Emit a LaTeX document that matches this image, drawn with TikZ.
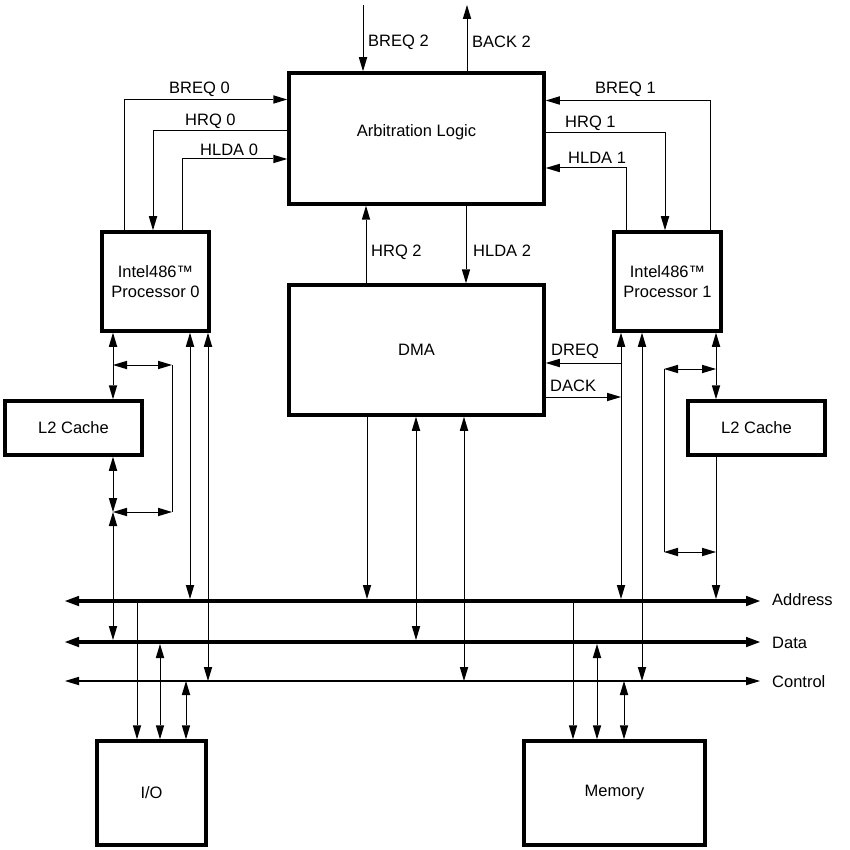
\documentclass[tikz,border=0pt]{standalone}
\usepackage{fontspec}
\setmainfont{Liberation Sans}
\usetikzlibrary{arrows.meta}
\begin{document}
\begin{tikzpicture}[x=1pt,y=-1pt,
  >={Triangle[length=14pt,width=8.5pt,line width=0pt]},
  every node/.style={font=\fontsize{16.5}{20}\selectfont},
  box/.style={draw,line width=3.5pt,inner sep=0pt,align=center},
  sig/.style={line width=1pt},
  bustip/.tip={Triangle[length=14pt,width=10.5pt,line width=0pt]},
  bus/.style={line width=4pt,bustip-bustip},
  cbus/.style={line width=1.2pt,<->},
  lbl/.style={anchor=west,inner sep=0pt}]
\useasboundingbox (0,0) rectangle (850,850);

% boxes
\node[box,minimum width=255pt,minimum height=131pt] (arb) at (416.5,138.5) {};
\node (arbt) at ([yshift=6.5pt]arb.center) {Arbitration Logic};
\node[box,minimum width=255pt,minimum height=130pt] (dma) at (416.5,350) {DMA};
\node[box,minimum width=107pt,minimum height=99pt] (p0) at (155.5,281.5) {Intel486™\\Processor 0};
\node[box,minimum width=107pt,minimum height=99pt] (p1) at (667.5,281.5) {Intel486™\\Processor 1};
\node[box,minimum width=137pt,minimum height=54pt] (c0) at (73.5,428) {L2 Cache};
\node[box,minimum width=137pt,minimum height=54pt] (c1) at (756.5,428) {L2 Cache};
\node[box,minimum width=109pt,minimum height=104pt] (io) at (151.5,793) {I/O};
\node[box,minimum width=181pt,minimum height=104pt] (mem) at (614.5,793) {Memory};

% buses
\coordinate (aL) at (65,601); \coordinate (aR) at (760,601);
\coordinate (dL) at (65,642); \coordinate (dR) at (760,642);
\coordinate (cL) at (65,681); \coordinate (cR) at (760,681);
\draw[bus] (aL) -- (aR);
\draw[bus] (dL) -- (dR);
\draw[cbus] (cL) -- (cR);
\node[lbl] (la) at (772,600) {Address};
\node[lbl] (ld) at (772,643) {Data};
\node[lbl] (lc) at (772,682) {Control};

% top signals
\coordinate (breq2s) at (363,5);
\coordinate (back2e) at (467,5);
\draw[sig,->] (breq2s) -- (arb.north -| breq2s);
\draw[sig,->] (arb.north -| back2e) -- (back2e);
\node[lbl] (tb2) at (368,42) {BREQ 2};
\node[lbl] (tk2) at (472,42) {BACK 2};

% left arbitration signals
\coordinate (b0) at (124,99.5);
\coordinate (h0) at (153,131);
\coordinate (l0) at (182,159);
\draw[sig,->] (p0.north -| b0) |- (arb.west |- b0);
\draw[sig,->] (arb.west |- h0) -| (p0.north -| h0);
\draw[sig,->] (p0.north -| l0) |- (arb.west |- l0);
\node[lbl] (tb0) at (169,89) {BREQ 0};
\node[lbl] (th0) at (185,121) {HRQ 0};
\node[lbl] (tl0) at (200,150) {HLDA 0};

% right arbitration signals
\coordinate (b1) at (710,100.5);
\coordinate (h1) at (665,132.5);
\coordinate (l1) at (626,168);
\draw[sig,->] (p1.north -| b1) |- (arb.east |- b1);
\draw[sig,->] (arb.east |- h1) -| (p1.north -| h1);
\draw[sig,->] (p1.north -| l1) |- (arb.east |- l1);
\node[lbl] (tb1) at (595,89) {BREQ 1};
\node[lbl] (th1) at (565,123) {HRQ 1};
\node[lbl] (tl1) at (568,158) {HLDA 1};

% DMA <-> arbitration
\coordinate (h2) at (366,0);
\coordinate (a2) at (466,0);
\draw[sig,->] (dma.north -| h2) -- (arb.south -| h2);
\draw[sig,->] (arb.south -| a2) -- (dma.north -| a2);
\node[lbl] (th2) at (371,252) {HRQ 2};
\node[lbl] (ta2) at (473,251) {HLDA 2};

% DREQ / DACK
\coordinate (dreq) at (621,363);
\coordinate (dack) at (621,397);
\draw[sig,->] (dreq) -- (dma.east |- dreq);
\draw[sig,->] (dma.east |- dack) -- (dack);
\node[lbl] (tdr) at (551,351) {DREQ};
\node[lbl] (tda) at (550,386) {DACK};

% processor 0 lower connections
\coordinate (k1) at (113,365); \coordinate (k2) at (172,365);
\coordinate (k3) at (172,512); \coordinate (k4) at (113,512);
\coordinate (p0a) at (190,0); \coordinate (p0c) at (208,0);
\draw[sig,<->] (p0.south -| k1) -- (c0.north -| k1);
\draw[sig,<->] (k1) -- (k2);
\draw[sig] (k2) -- (k3);
\draw[sig,<->] (k3) -- (k4);
\draw[sig,<->] (c0.south -| k4) -- (k4);
\draw[sig,<->,shorten >=2pt] (k4) -- (dL -| k4);
\draw[sig,<->,shorten >=2pt] (p0.south -| p0a) -- (aL -| p0a);
\draw[sig,<->] (p0.south -| p0c) -- (cL -| p0c);

% processor 1 lower connections
\coordinate (q1) at (716,369); \coordinate (q2) at (664,369);
\coordinate (q3) at (664,552); \coordinate (q4) at (716,552);
\coordinate (p1a) at (621,0); \coordinate (p1c) at (642,0);
\draw[sig,<->] (p1.south -| q1) -- (c1.north -| q1);
\draw[sig,<->] (q2) -- (q1);
\draw[sig] (q2) -- (q3);
\draw[sig,<->] (q3) -- (q4);
\draw[sig,->,shorten >=2pt] (c1.south -| q1) -- (aL -| q1);
\draw[sig,<->,shorten >=2pt] (p1.south -| p1a) -- (aL -| p1a);
\draw[sig,<->] (p1.south -| p1c) -- (cL -| p1c);

% DMA to buses
\coordinate (m1) at (367,0); \coordinate (m2) at (416,0); \coordinate (m3) at (464,0);
\draw[sig,->,shorten >=2pt] (dma.south -| m1) -- (aL -| m1);
\draw[sig,<->,shorten >=2pt] (dma.south -| m2) -- (dL -| m2);
\draw[sig,<->] (dma.south -| m3) -- (cL -| m3);

% I/O
\coordinate (i1) at (137,0); \coordinate (i2) at (160,0); \coordinate (i3) at (186,0);
\draw[sig,->] (aL -| i1) -- (io.north -| i1);
\draw[sig,<->,shorten <=2pt] (dL -| i2) -- (io.north -| i2);
\draw[sig,<->] (cL -| i3) -- (io.north -| i3);

% Memory
\coordinate (n1) at (573,0); \coordinate (n2) at (597,0); \coordinate (n3) at (624,0);
\draw[sig,->] (aL -| n1) -- (mem.north -| n1);
\draw[sig,<->,shorten <=2pt] (dL -| n2) -- (mem.north -| n2);
\draw[sig,<->] (cL -| n3) -- (mem.north -| n3);
\end{tikzpicture}
\end{document}
